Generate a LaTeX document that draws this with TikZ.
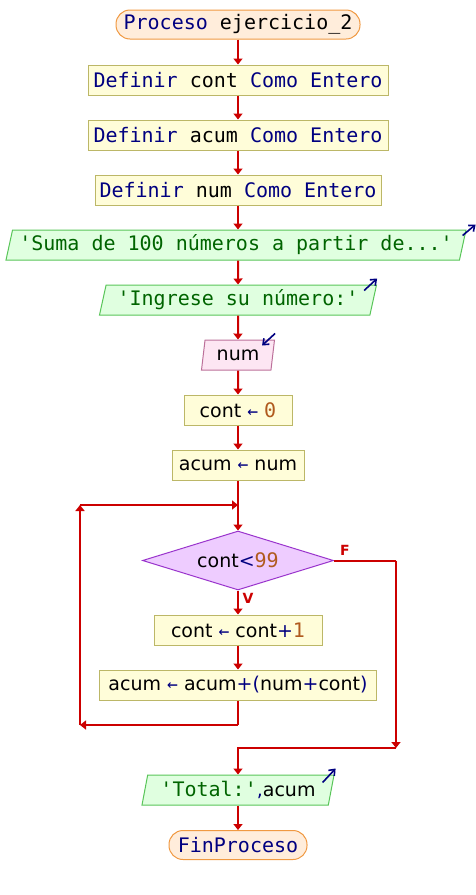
\documentclass[tikz,border=0pt]{standalone}
\usepackage{fontspec}
\setmainfont{DejaVu Sans}
\setmonofont{DejaVu Sans Mono}
\usetikzlibrary{shapes.geometric, arrows.meta, positioning}

\definecolor{kwazul}{HTML}{000080}
\definecolor{strverde}{HTML}{006400}
\definecolor{numcafe}{HTML}{B05A1E}
\definecolor{flujorojo}{HTML}{CC0000}
\definecolor{moradofondo}{HTML}{EECCFF}
\definecolor{moradoborde}{HTML}{9933CC}

\newcommand{\mo}[1]{{\fontsize{20}{24}\selectfont\ttfamily #1}}
\newcommand{\kw}[1]{\textcolor{kwazul}{#1}}
\newcommand{\str}[1]{\textcolor{strverde}{\mo{#1}}}
\newcommand{\nm}[1]{\textcolor{numcafe}{\mo{#1}}}
\newcommand{\op}[1]{\textcolor{kwazul}{#1}}
\newcommand{\asig}{\textcolor{kwazul}{{\fontsize{18}{20}\selectfont\ttfamily ←}}}

\begin{document}
\begin{tikzpicture}
    [
        x=1pt, y=-1pt,
        every node/.style={font=\fontsize{19}{22}\selectfont, inner sep=0pt},
        terminal/.style={draw=orange!70!brown!80, fill=orange!14, line width=1pt,
            rounded corners=14pt, minimum height=29pt},
        proceso/.style={draw=yellow!60!black!75, fill=yellow!15, line width=1pt,
            minimum height=30pt},
        salida/.style={draw=green!65!black!65, fill=green!12, line width=1pt,
            trapezium, trapezium left angle=72, trapezium right angle=108,
            trapezium stretches body, minimum height=30pt},
        entrada/.style={salida, draw=magenta!60!black!70, fill=magenta!10},
        decision/.style={draw=moradoborde, fill=moradofondo, line width=1pt,
            diamond, aspect=3.2, minimum width=191pt, minimum height=59pt},
        flecha/.style={draw=flujorojo, line width=2pt, -{Triangle[length=6pt,width=9pt]}},
        linea/.style={draw=flujorojo, line width=2pt},
        icono/.style={draw=kwazul, line width=1.6pt, -{Straight Barb[length=5pt,width=8pt]}},
        etiq/.style={text=flujorojo, font=\fontsize{14}{16}\selectfont\bfseries},
    ]
    \useasboundingbox (0,0) rectangle (476,895);

    % secuencia principal
    \node[terminal, minimum width=244pt] (inicio) at (238,24.5) {\mo{\kw{Proceso} ejercicio\_2}};
    \node[proceso, minimum width=300pt] (defcont) at (238,80) {\mo{\kw{Definir} cont \kw{Como Entero}}};
    \node[proceso, minimum width=300pt] (defacum) at (238,135) {\mo{\kw{Definir} acum \kw{Como Entero}}};
    \node[proceso, minimum width=286pt] (defnum) at (238,190) {\mo{\kw{Definir} num \kw{Como Entero}}};
    \node[salida, minimum width=460pt] (msgsuma) at (236,245) {\str{'Suma de 100 números a partir de...'}};
    \node[salida, minimum width=277pt] (msgingrese) at (238,300) {\str{'Ingrese su número:'}};
    \node[entrada, minimum width=73pt] (leernum) at (238,355) {num};
    \node[proceso, minimum width=108pt] (contcero) at (238,410) {cont \asig{} \nm{0}};
    \node[proceso, minimum width=132pt] (acumnum) at (238,465) {acum \asig{} num};
    \node[decision] (cond) at (238,560.5) {cont\op{<}\nm{99}};
    \node[proceso, minimum width=168pt] (contmas) at (238,630) {cont \asig{} cont\op{+}\nm{1}};
    \node[proceso, minimum width=277pt] (acummas) at (238,685) {acum \asig{} acum\op{+(}num\op{+}cont\op{)}};
    \node[salida, minimum width=192pt] (total) at (238,790) {\str{'Total:'}\op{,}acum};
    \node[terminal, minimum width=138pt] (fin) at (238,845) {\mo{\kw{FinProceso}}};

    % iconos de entrada/salida
    \draw[icono] ([shift={(-4,6)}]msgsuma.top right corner) -- ([shift={(9,-5)}]msgsuma.top right corner);
    \draw[icono] ([shift={(-13,6)}]msgingrese.top right corner) -- ([shift={(0,-6)}]msgingrese.top right corner);
    \draw[icono] ([shift={(0,-6)}]leernum.top right corner) -- ([shift={(-13,6)}]leernum.top right corner);
    \draw[icono] ([shift={(-12,8)}]total.top right corner) -- ([shift={(1,-6)}]total.top right corner);

    % esquinas del ciclo
    \coordinate (lazoab) at (238,725);
    \coordinate (lazoiz) at (80,725);
    \coordinate (lazoar) at (80,505);
    \coordinate (lazoen) at (238,505);
    \coordinate (fder) at (396,560.5);
    \coordinate (fbajo) at (396,748);

    \draw[flecha] (inicio) -- (defcont);
    \draw[flecha] (defcont) -- (defacum);
    \draw[flecha] (defacum) -- (defnum);
    \draw[flecha] (defnum) -- (defnum |- msgsuma.north);
    \draw[flecha] (msgsuma.south -| msgingrese) -- (msgingrese);
    \draw[flecha] (msgingrese) -- (leernum);
    \draw[flecha] (leernum) -- (contcero);
    \draw[flecha] (contcero) -- (acumnum);
    \draw[flecha] (acumnum) -- (cond);
    \draw[flecha] (cond) -- (contmas);
    \draw[flecha] (contmas) -- (acummas);
    \draw[linea] (acummas) -- (lazoab);
    \draw[flecha] (lazoab) -- (lazoiz);
    \draw[flecha] (lazoiz) -- (lazoar);
    \draw[flecha] (lazoar) -- (lazoen);
    \draw[linea] (cond.east) -- (fder);
    \draw[flecha] (fder) -- (fbajo);
    \draw[flecha] (fbajo) -| (total);
    \draw[flecha] (total) -- (fin);

    \node[etiq] (etiqF) at (345,550) {F};
    \node[etiq] (etiqV) at (248,598) {V};
\end{tikzpicture}
\end{document}
